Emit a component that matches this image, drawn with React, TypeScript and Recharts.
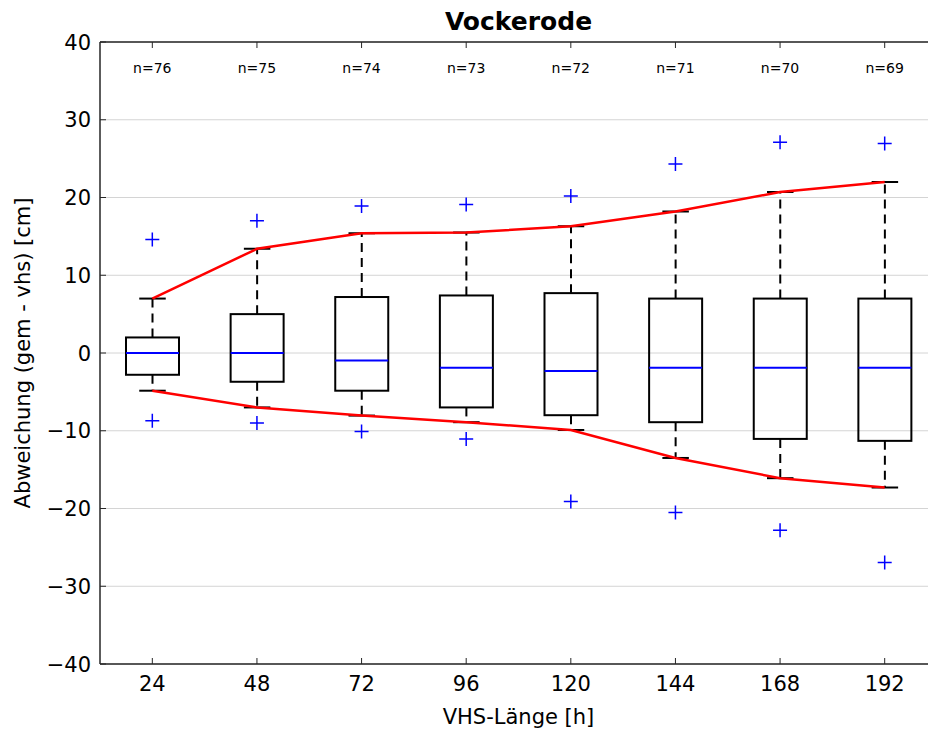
import React from 'react';
import {
    ComposedChart,
    Bar,
    Line,
    Scatter,
    XAxis,
    YAxis,
    CartesianGrid
} from 'recharts';

// forecast lead times [h] and sample counts
const hours = [24, 48, 72, 96, 120, 144, 168, 192];
const counts = [76, 75, 74, 73, 72, 71, 70, 69];

// box plot statistics [cm]
const whiskerLow = [-4.85, -7.0, -8.05, -8.9, -9.9, -13.5, -16.1, -17.3];
const q1 = [-2.8, -3.7, -4.85, -7.0, -8.0, -8.9, -11.05, -11.3];
const median = [0, 0, -0.95, -1.9, -2.3, -1.9, -1.9, -1.9];
const q3 = [2.0, 5.0, 7.2, 7.4, 7.7, 7.0, 7.0, 7.0];
const whiskerHigh = [7.0, 13.4, 15.4, 15.5, 16.3, 18.2, 20.7, 22.0];
const outlierHigh = [14.6, 17.0, 18.9, 19.1, 20.2, 24.3, 27.1, 26.95];
const outlierLow = [-8.7, -9.0, -10.1, -11.05, -19.1, -20.5, -22.8, -26.95];

const yTicks = [-40, -30, -20, -10, 0, 10, 20, 30, 40];

const data = hours.map((h, i) => ({
    hours: h,
    n: counts[i],
    wLow: whiskerLow[i],
    q1: q1[i],
    median: median[i],
    q3: q3[i],
    wHigh: whiskerHigh[i],
    outHigh: outlierHigh[i],
    outLow: outlierLow[i]
}));

const countByHour: Record<string, number> = {};
hours.forEach((h, i) => {
    countByHour[String(h)] = counts[i];
});

const FONT = 'DejaVu Sans';
const AXIS = '#262626';

const BoxShape = (props: any) => {
    const { x, y, width, height } = props;
    const d = props.payload ?? props;
    const top = Math.min(y, y + height);
    const h = Math.abs(height);
    const hi = d.wHigh;
    const lo = d.wLow;
    const py = (v: number) => top + (h * (hi - v)) / (hi - lo);
    const cx = x + width / 2;
    const cap = width / 4;
    const yq3 = py(d.q3);
    const yq1 = py(d.q1);
    const ym = py(d.median);
    return (
        <g>
            <line x1={cx} x2={cx} y1={yq3} y2={top} stroke="#000" strokeWidth={2} strokeDasharray="9 6" />
            <line x1={cx} x2={cx} y1={yq1} y2={top + h} stroke="#000" strokeWidth={2} strokeDasharray="9 6" />
            <line x1={cx - cap} x2={cx + cap} y1={top} y2={top} stroke="#000" strokeWidth={2} />
            <line x1={cx - cap} x2={cx + cap} y1={top + h} y2={top + h} stroke="#000" strokeWidth={2} />
            <rect x={x} y={yq3} width={width} height={yq1 - yq3} fill="none" stroke="#000" strokeWidth={2} />
            <line x1={x} x2={x + width} y1={ym} y2={ym} stroke="#0000ff" strokeWidth={2} />
        </g>
    );
};

const PlusShape = (props: any) => {
    const { cx, cy } = props;
    if (cx == null || cy == null) return <g />;
    return (
        <path
            d={`M${cx - 7},${cy}H${cx + 7}M${cx},${cy - 7}V${cy + 7}`}
            stroke="#0000ff"
            strokeWidth={1.5}
            fill="none"
        />
    );
};

const YTick = (props: any) => {
    const { x, y, payload } = props;
    return (
        <g>
            <line x1={x} x2={x + 6} y1={y} y2={y} stroke={AXIS} strokeWidth={1} />
            <text x={x - 9} y={y} dy="0.36em" textAnchor="end" fontFamily={FONT} fontSize={21} fill="#000">
                {payload.value < 0 ? '\u2212' + Math.abs(payload.value) : payload.value}
            </text>
        </g>
    );
};

const XTick = (props: any) => {
    const { x, y, payload } = props;
    return (
        <g>
            <line x1={x} x2={x} y1={y} y2={y - 6} stroke={AXIS} strokeWidth={1} />
            <text x={x} y={y + 19} dy="0.36em" textAnchor="middle" fontFamily={FONT} fontSize={21} fill="#000">
                {payload.value}
            </text>
        </g>
    );
};

const CountTick = (props: any) => {
    const { x, y, payload } = props;
    return (
        <g>
            <line x1={x} x2={x} y1={y} y2={y + 6} stroke={AXIS} strokeWidth={1} />
            <text x={x} y={y + 26} dy="0.36em" textAnchor="middle" fontFamily={FONT} fontSize={14} fill="#000">
                {'n=' + countByHour[String(payload.value)]}
            </text>
        </g>
    );
};

const TitleLabel = (props: any) => {
    const vb = props.viewBox;
    return (
        <text x={vb.x + vb.width / 2} y={vb.y + vb.height - 12} textAnchor="middle" fontFamily={FONT} fontSize={25} fontWeight="bold" fill="#000">
            Vockerode
        </text>
    );
};

const XLabel = (props: any) => {
    const vb = props.viewBox;
    return (
        <text x={vb.x + vb.width / 2} y={vb.y + 60} textAnchor="middle" fontFamily={FONT} fontSize={21} fill="#000">
            VHS-Länge [h]
        </text>
    );
};

const YLabel = (props: any) => {
    const vb = props.viewBox;
    const cy = vb.y + vb.height / 2;
    return (
        <text x={22} y={cy} transform={`rotate(-90 22 ${cy})`} dy="0.36em" textAnchor="middle" fontFamily={FONT} fontSize={21} fill="#000">
            Abweichung (gem - vhs) [cm]
        </text>
    );
};

const App = () => {
    return (
        <div style={{ position: 'absolute', left: 0, top: 0, width: 928, height: 733, overflow: 'hidden', background: '#fff' }}>
            <ComposedChart
                width={960}
                height={733}
                data={data}
                margin={{ top: 41, right: 23, left: 0, bottom: 0 }}
            >
                <CartesianGrid vertical={false} stroke="#d4d4d4" strokeWidth={1} />
                <XAxis
                    dataKey="hours"
                    type="category"
                    allowDuplicatedCategory={false}
                    height={69}
                    tickSize={0}
                    tickMargin={0}
                    tickLine={false}
                    tick={<XTick />}
                    interval={0}
                    axisLine={{ stroke: AXIS, strokeWidth: 1.5 }}
                    label={<XLabel />}
                />
                <XAxis
                    xAxisId="top"
                    orientation="top"
                    dataKey="hours"
                    type="category"
                    allowDuplicatedCategory={false}
                    height={1}
                    tickSize={0}
                    tickMargin={0}
                    tickLine={false}
                    tick={<CountTick />}
                    interval={0}
                    axisLine={{ stroke: AXIS, strokeWidth: 1.5 }}
                    label={<TitleLabel />}
                />
                <YAxis
                    type="number"
                    domain={[-40, 40]}
                    ticks={yTicks}
                    interval={0}
                    allowDataOverflow
                    width={100}
                    tickSize={0}
                    tickMargin={0}
                    tickLine={false}
                    tick={<YTick />}
                    axisLine={{ stroke: AXIS, strokeWidth: 1.5 }}
                    label={<YLabel />}
                />
                <Bar
                    dataKey={(d: any) => [d.wLow, d.wHigh]}
                    barSize={53}
                    shape={<BoxShape />}
                    activeBar={false}
                    isAnimationActive={false}
                />
                <Line
                    xAxisId="top"
                    type="linear"
                    dataKey="wHigh"
                    stroke="#ff0000"
                    strokeWidth={2.5}
                    dot={false}
                    activeDot={false}
                    isAnimationActive={false}
                />
                <Line
                    type="linear"
                    dataKey="wLow"
                    stroke="#ff0000"
                    strokeWidth={2.5}
                    dot={false}
                    activeDot={false}
                    isAnimationActive={false}
                />
                <Scatter dataKey="outHigh" shape={<PlusShape />} isAnimationActive={false} />
                <Scatter dataKey="outLow" shape={<PlusShape />} isAnimationActive={false} />
            </ComposedChart>
        </div>
    );
};

export default App;
